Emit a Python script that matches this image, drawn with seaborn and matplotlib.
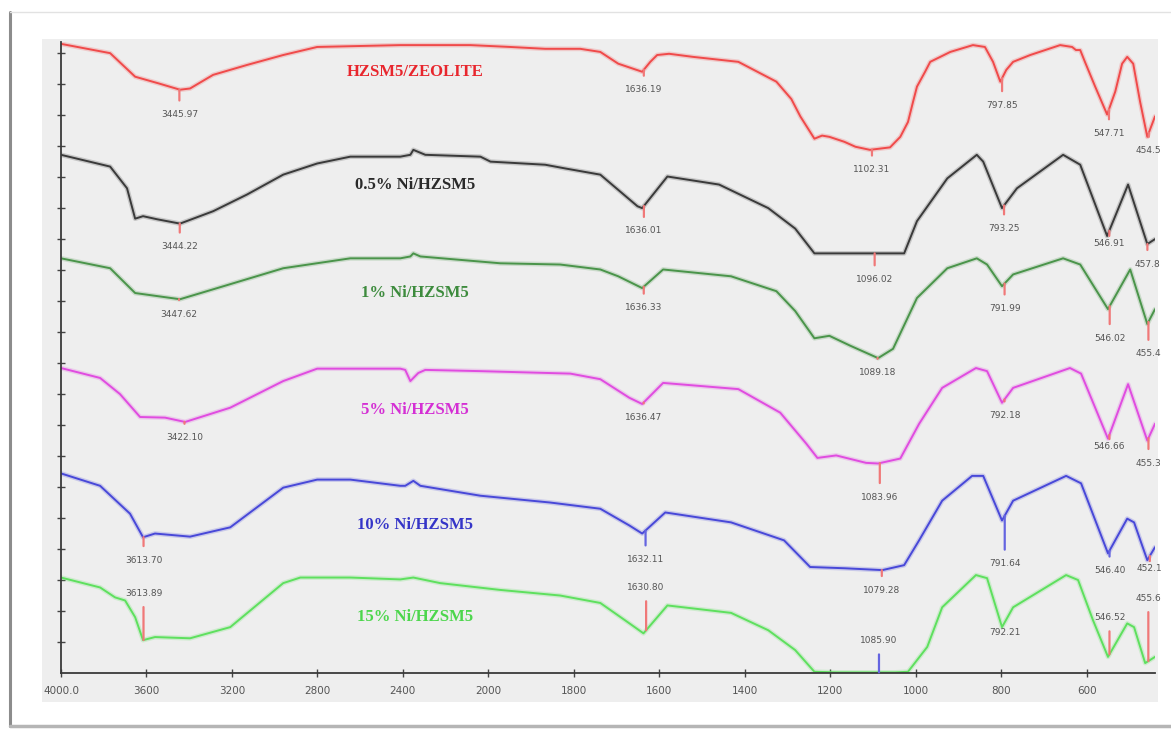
"""
FTIR spectra of HZSM5 and Ni/HZSM5 catalysts, stacked transmittance traces
with the peak positions marked.
"""

import matplotlib
import matplotlib.pyplot as plt
import numpy as np
import seaborn as sns
from matplotlib import patheffects as pe
from matplotlib.lines import Line2D
from matplotlib.patches import Rectangle

matplotlib.use("Agg")

# ---------------------------------------------------------------------------
# Data (wavenumber cm-1, transmittance with offsets)
# ---------------------------------------------------------------------------
WN_ZEO = [4000, 3770, 3653, 3541, 3443, 3396, 3288, 3129, 2960, 2801,
          2412, 2084, 1949, 1867, 1785, 1738, 1696, 1640, 1621, 1605,
          1577, 1521, 1415, 1326, 1291, 1270, 1237, 1219, 1202, 1167,
          1141, 1107, 1060, 1036, 1018, 1006, 997, 978, 966, 919,
          866, 838, 819, 802, 788, 772, 732, 662, 634, 625,
          615, 604, 580, 552, 533, 517, 505, 491, 475, 458, 440]
T_ZEO = [101.5, 100.0, 96.2, 95.1, 94.1, 94.3, 96.5, 98.1, 99.7, 101.0,
         101.3, 101.3, 101.0, 100.7, 100.7, 100.2, 98.3, 97.0, 98.6, 99.7,
         99.9, 99.4, 98.6, 95.4, 92.6, 89.8, 86.2, 86.7, 86.5, 85.7,
         84.9, 84.4, 84.8, 86.5, 88.9, 92.2, 94.6, 97.0, 98.6, 100.2,
         101.3, 101.0, 98.6, 95.4, 97.3, 98.6, 99.7, 101.3, 101.0, 100.5,
         100.5, 98.6, 94.6, 90.1, 93.8, 98.3, 99.4, 98.3, 92.2, 86.5, 89.8]
PK_ZEO = ["3445.97", "1636.19", "1102.31", "797.85", "547.71", "454.5"]

WN_05 = [4000, 3770, 3691, 3653, 3616, 3550, 3443, 3288, 3129, 2960,
         2801, 2646, 2412, 2365, 2351, 2295, 2037, 1995, 1867, 1820,
         1738, 1651, 1640, 1581, 1460, 1345, 1282, 1237, 1027, 997,
         926, 857, 842, 798, 763, 655, 615, 552, 503, 458, 440]
T_05 = [83.6, 81.7, 78.2, 73.3, 73.7, 73.2, 72.5, 74.5, 77.2, 80.4,
        82.2, 83.3, 83.3, 83.6, 84.4, 83.6, 83.3, 82.5, 82.0, 81.4,
        80.4, 75.3, 75.0, 80.1, 78.8, 75.0, 71.7, 67.7, 67.7, 72.9,
        79.8, 83.6, 82.5, 75.0, 78.2, 83.6, 82.0, 70.5, 78.8, 69.2, 70.0]
PK_05 = ["3444.22", "1636.01", "1096.02", "793.25", "546.91", "457.8"]

WN_1 = [4000, 3770, 3653, 3443, 3288, 2960, 2646, 2412, 2365, 2351, 2318, 1972,
        1832, 1738, 1696, 1640, 1591, 1432, 1326, 1282, 1237, 1202, 1153, 1088,
        1053, 997, 926, 857, 833, 798, 772, 655, 615, 550, 498, 458, 440]
T_1 = [66.9, 65.3, 61.3, 60.3, 61.9, 65.3, 66.9, 66.9, 67.2, 67.7, 67.2, 66.1,
       65.9, 65.1, 64.0, 62.1, 65.1, 64.0, 61.6, 58.4, 54.0, 54.4, 52.8, 50.8,
       52.3, 60.5, 65.3, 66.9, 65.9, 62.4, 64.3, 66.9, 65.9, 58.7, 65.1, 56.3, 58.7]
PK_1 = ["3447.62", "1636.33", "1089.18", "791.99", "546.02", "455.4"]

WN_5 = [4000, 3817, 3724, 3630, 3513, 3419, 3208, 2960, 2801, 2412, 2389, 2365,
        2328, 2295, 2037, 1808, 1738, 1670, 1640, 1591, 1415, 1317, 1256, 1230,
        1186, 1116, 1088, 1036, 992, 938, 859, 833, 798, 772, 639, 613, 550, 503,
        458, 440]
T_5 = [49.2, 47.6, 45.0, 41.3, 41.2, 40.5, 42.8, 47.1, 49.1, 49.1, 48.9, 47.1,
       48.4, 48.9, 48.7, 48.3, 47.4, 44.4, 43.4, 46.8, 45.8, 42.0, 37.0, 34.7,
       35.1, 33.9, 33.8, 34.6, 40.2, 46.0, 49.2, 48.7, 43.6, 46.0, 49.2, 48.3, 37.8, 46.6,
       37.5, 40.2]
PK_5 = ["3422.10", "1636.47", "1083.96", "792.18", "546.66", "455.3"]

WN_10 = [4000, 3817, 3677, 3616, 3560, 3396, 3208, 2960, 2801, 2646, 2412, 2389,
         2351, 2318, 2037, 1855, 1738, 1670, 1640, 1586, 1432, 1308, 1247, 1167,
         1078, 1027, 992, 938, 868, 842, 798, 772, 648, 613, 550, 505, 489, 458, 440]
T_10 = [32.2, 30.2, 25.7, 21.9, 22.5, 22.0, 23.5, 29.9, 31.2, 31.2, 30.2, 30.2,
        31.0, 30.2, 28.6, 27.5, 26.5, 23.8, 22.5, 25.9, 24.3, 21.4, 17.1, 16.9,
        16.6, 17.4, 21.4, 27.8, 31.8, 31.8, 24.6, 27.8, 31.8, 30.6, 19.3, 24.9, 24.3,
        18.2, 20.3]
PK_10 = ["3613.70", "1632.11", "1079.28", "791.64", "546.40", "452.1"]

WN_15 = [4000, 3817, 3747, 3700, 3653, 3616, 3560, 3396, 3208, 2960, 2880, 2646,
         2412, 2351, 2225, 1972, 1832, 1738, 1680, 1637, 1581, 1432, 1345, 1282,
         1237, 1186, 1107, 1048, 1018, 973, 938, 859, 833, 798, 772, 648, 620, 585,
         550, 505, 489, 463, 440]
T_15 = [15.4, 13.8, 12.2, 11.7, 9.0, 5.3, 5.8, 5.6, 7.4, 14.5, 15.4, 15.4,
        15.1, 15.4, 14.5, 13.4, 12.5, 11.3, 8.5, 6.4, 10.9, 9.7, 6.9, 3.7,
        0.2, 0.1, 0.1, 0.1, 0.2, 4.2, 10.6, 15.8, 15.3, 7.4, 10.6, 15.8, 15.0, 8.5,
        2.6, 8.0, 7.4, 1.6, 2.6]
PK_15 = ["3613.89", "1630.80", "1085.90", "792.21", "546.52", "455.6"]

NAMES = ["HZSM5/ZEOLITE", "0.5% Ni/HZSM5", "1% Ni/HZSM5",
         "5% Ni/HZSM5", "10% Ni/HZSM5", "15% Ni/HZSM5"]

XTICKS = [4000, 3600, 3200, 2800, 2400, 2000, 1800, 1600, 1400, 1200, 1000, 800, 600]
XTICK_LABELS = ["4000.0", "3600", "3200", "2800", "2400", "2000", "1800",
                "1600", "1400", "1200", "1000", "800", "600"]

# ---------------------------------------------------------------------------
# Styling / layout
# ---------------------------------------------------------------------------
LINE_COLORS = ["#f04a4a", "#3a3a3a", "#4a944a", "#e04ce0", "#4848d8", "#5ee05e"]
TEXT_COLORS = ["#e8262d", "#2a2a2a", "#3d8b3d", "#d42fd4", "#3535c8", "#4cd64c"]
NAME_POS_Y = [0.952, 0.773, 0.602, 0.417, 0.2345, 0.0887]   # axes fraction
NAME_POS_X = 0.3236

RED_MK = "#f07878"
BLUE_MK = "#6464e0"
# label offsets in pixels (negative = below the peak)
LABEL_DY = [
    [-25, -20, -20, -27, -24, -18],
    [-23, -25, -26, -23, -13, -20],
    [-15, -21, -15, -25, -32, -32],
    [-16, -15, -34, -16, -12, -25],
    [-23, -29, -20, -48, -20, -13],
    [47, 43, 32, -10, 37, 63],
]
MARK_COLORS = [
    [RED_MK] * 6,
    [RED_MK] * 6,
    [RED_MK] * 6,
    [RED_MK] * 6,
    [RED_MK, BLUE_MK, RED_MK, BLUE_MK, BLUE_MK, RED_MK],
    [RED_MK, RED_MK, BLUE_MK, None, RED_MK, RED_MK],
]

W, H = 1171, 729


def fx(px):
    return px / W


def fy(py):
    return 1 - py / H


def _fwd(w):
    # 4000-2000 cm-1 shown at half the scale of 2000-400 cm-1
    w = np.asarray(w, dtype=float)
    return np.where(w < 2000, w, 2000 + (w - 2000) / 2)


def _inv(t):
    t = np.asarray(t, dtype=float)
    return np.where(t < 2000, t, 2000 + (t - 2000) * 2)


sns.set_style("ticks")
plt.rcParams["font.family"] = ["DejaVu Sans"]

fig = plt.figure(figsize=(W / 100, H / 100), dpi=100)
fig.patch.set_facecolor("white")

# screenshot-like frame and grey panel
fig.add_artist(Rectangle((fx(42), fy(702)), fx(1158) - fx(42), fy(39) - fy(702),
                         transform=fig.transFigure, facecolor="#eeeeee",
                         edgecolor="none", zorder=-2))
fig.add_artist(Line2D([fx(10), fx(10)], [fy(12), fy(726)], color="#8c8c8c", lw=2.2))
fig.add_artist(Line2D([fx(10), fx(1171)], [fy(726), fy(726)], color="#b5b5b5", lw=2.5))
fig.add_artist(Line2D([fx(10), fx(1171)], [fy(12), fy(12)], color="#e2e2e2", lw=1))

ax = fig.add_axes([fx(61), fy(673), fx(1155) - fx(61), fy(42) - fy(673)])
ax.set_facecolor("#eeeeee")

series = [
    (WN_ZEO, T_ZEO, PK_ZEO),
    (WN_05, T_05, PK_05),
    (WN_1, T_1, PK_1),
    (WN_5, T_5, PK_5),
    (WN_10, T_10, PK_10),
    (WN_15, T_15, PK_15),
]

for i, (wn, tr, _) in enumerate(series):
    sns.lineplot(x=wn, y=tr, ax=ax, color=LINE_COLORS[i], linewidth=1.4,
                 errorbar=None, legend=False)
    ax.lines[-1].set_path_effects(
        [pe.Stroke(linewidth=3.4, foreground=LINE_COLORS[i], alpha=0.22), pe.Normal()])

ax.set_xscale("function", functions=(_fwd, _inv))
ax.set_xlim(4000, 440)
ax.set_ylim(0, 101.8)
ax.set_xticks(XTICKS)
ax.set_xticklabels(XTICK_LABELS)
ax.set_yticks(np.arange(5, 101, 5))
ax.minorticks_off()
ax.tick_params(axis="both", direction="inout", length=6, width=1, color="#444444",
               labelsize=7.5, labelcolor="#555555")
ax.tick_params(axis="x", pad=6)
ax.tick_params(axis="y", labelleft=False)
ax.set_xlabel("")
ax.set_ylabel("")
for side in ("top", "right"):
    ax.spines[side].set_visible(False)
for side in ("left", "bottom"):
    ax.spines[side].set_color("#3a3a3a")
    ax.spines[side].set_linewidth(1.3)

# peak markers and labels
for i, (wn, tr, peaks) in enumerate(series):
    wn_a = np.array(wn, dtype=float)[::-1]
    tr_a = np.array(tr, dtype=float)[::-1]
    for lab, dy, mc in zip(peaks, LABEL_DY[i], MARK_COLORS[i]):
        w0 = float(lab)
        y0 = max(float(np.interp(w0, wn_a, tr_a)), 0.0)
        arrow = None
        if mc is not None:
            arrow = dict(arrowstyle="-", color=mc, lw=1.6, shrinkA=4.5, shrinkB=0)
        ax.annotate(lab, xy=(w0, y0), xytext=(0, dy * 0.72), textcoords="offset points",
                    ha="center", va="center", fontsize=6.5, color="#555555",
                    arrowprops=arrow)

# series names
for i, name in enumerate(NAMES):
    ax.text(NAME_POS_X, NAME_POS_Y[i], name, transform=ax.transAxes,
            ha="center", va="center", fontsize=12, fontweight="bold",
            family=["Liberation Serif", "DejaVu Serif"], color=TEXT_COLORS[i])

fig.savefig("out.png", dpi=100)
plt.close(fig)
